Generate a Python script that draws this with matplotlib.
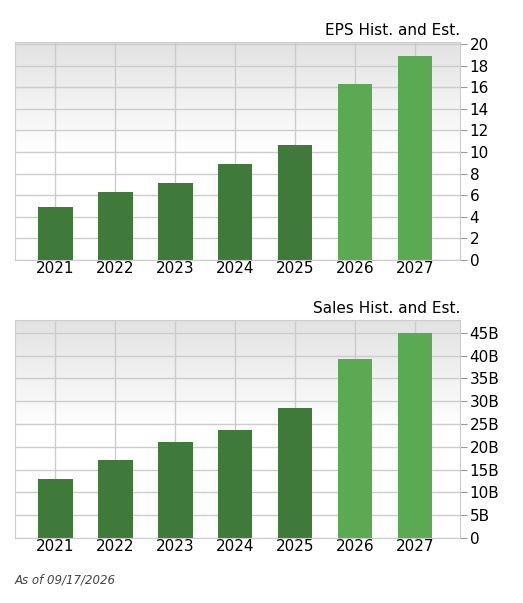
import matplotlib
matplotlib.use("Agg")
import matplotlib.pyplot as plt
import numpy as np

years = ["2021", "2022", "2023", "2024", "2025", "2026", "2027"]
eps = [4.9, 6.3, 7.1, 8.9, 10.7, 16.3, 18.9]
sales = [13.0, 17.0, 21.0, 23.7, 28.5, 39.3, 45.0]
estimate = [False, False, False, False, False, True, True]
eps_ticks = list(range(0, 21, 2))
sales_ticks = list(range(0, 46, 5))
sales_labels = ["0"] + [f"{v}B" for v in sales_ticks[1:]]

W, H = 523, 603
fig = plt.figure(figsize=(W/100, H/100), dpi=100)
dark, light = "#3f7a3a", "#5ca954"

def panel(top, bottom, vals, ticks, labels, ymax, title):
    ax = fig.add_axes([15/W, 1-bottom/H, 445/W, (bottom-top)/H])
    x = np.arange(len(years))
    grad = np.linspace(0, 1, 256).reshape(-1, 1)
    ax.imshow(grad, extent=[-0.67, 6.75, 0, ymax], aspect="auto", origin="lower",
              cmap=matplotlib.colors.LinearSegmentedColormap.from_list("g", ["#ffffff", "#ffffff", "#e2e2e2"]), zorder=0)
    ax.set_xlim(-0.67, 6.75); ax.set_ylim(0, ymax)
    for xi in x:
        ax.axvline(xi, color="#cccccc", lw=1, zorder=1)
    for t in ticks:
        ax.axhline(t, color="#cccccc", lw=1, zorder=1)
    ax.bar(x, vals, width=0.58, color=[light if e else dark for e in estimate], zorder=2)
    ax.set_xticks(x, years, fontsize=11)
    ax.yaxis.tick_right()
    ax.set_yticks(ticks, labels, fontsize=11)
    ax.tick_params(axis="x", length=0, pad=1)
    ax.tick_params(axis="y", length=5, color="#999999", pad=2)
    for s in ax.spines.values():
        s.set_color("#cccccc")
    ax.text(1.0, 1.02, title, transform=ax.transAxes, ha="right", va="bottom", fontsize=11)
    return ax

panel(42, 260, eps, eps_ticks, [str(t) for t in eps_ticks], 20.2, "EPS Hist. and Est.")
panel(320, 538, sales, sales_ticks, sales_labels, 47.8, "Sales Hist. and Est.")
fig.text(15/W, 1-580/H, "As of 09/17/2026", fontsize=8.5, style="italic", color="#444444", va="center")
fig.savefig("out.png", dpi=100)
